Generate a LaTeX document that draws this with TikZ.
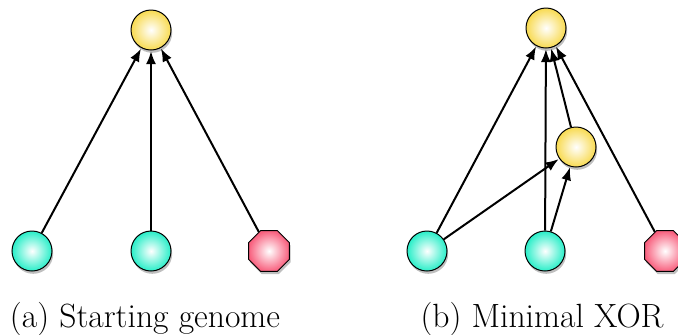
\documentclass[tikz,border=0pt]{standalone}
\usetikzlibrary{shapes.geometric,shadows,arrows.meta}
\definecolor{ylw}{RGB}{248,218,80}
\definecolor{cyn}{RGB}{40,238,200}
\definecolor{rdd}{RGB}{248,96,126}
\tikzset{
  px/.style={x=0.5pt,y=-0.5pt},
  shd/.style={drop shadow={shadow xshift=0.6pt,shadow yshift=-1.4pt,fill=black,opacity=0.25}},
  ball/.style={circle,draw=black,line width=0.5pt,minimum size=20pt,inner sep=0pt,shd},
  outnode/.style={ball,inner color=white,outer color=ylw},
  innode/.style={ball,inner color=white,outer color=cyn},
  biasnode/.style={regular polygon,regular polygon sides=8,draw=black,line width=0.5pt,minimum size=22pt,inner sep=0pt,shd,inner color=white,outer color=rdd},
  conn/.style={-{Latex[length=6.5pt,width=5pt]},line width=1pt,shorten >=0.3pt},
  captext/.style={font=\fontsize{16.8}{20}\selectfont,anchor=base}
}
\begin{document}
\begin{tikzpicture}[px]
\useasboundingbox (0,0) rectangle (678,334);
% panel (a)
\node[outnode] (aout) at (151,30) {};
\node[innode] (ai1) at (32,251) {};
\node[innode] (ai2) at (151,251) {};
\node[biasnode] (ab) at (269,251) {};
\draw[conn] (ai1) -- (aout);
\draw[conn] (ai2) -- (aout);
\draw[conn] (ab) -- (aout);
\node[captext] (capa) at (145,327) {(a) Starting genome};
% panel (b)
\node[outnode] (bout) at (546,28) {};
\node[outnode] (bhid) at (576,147) {};
\node[innode] (bi1) at (427,251) {};
\node[innode] (bi2) at (545,251) {};
\node[biasnode] (bb) at (665,251) {};
\draw[conn] (bi1) -- (bout);
\draw[conn] (bi1) -- (bhid);
\draw[conn] (bi2) -- (bout);
\draw[conn] (bi2) -- (bhid);
\draw[conn] (bhid) -- (bout);
\draw[conn] (bb) -- (bout);
\node[captext] (capb) at (542,327) {(b) Minimal XOR};
\end{tikzpicture}
\end{document}
